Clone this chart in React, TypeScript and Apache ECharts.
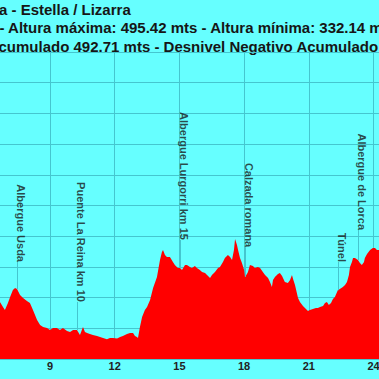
import React, { useEffect, useRef } from "react";
import * as echarts from "echarts";

// Profile: distance (km) and elevation (m)
const kms = [
  6.45, 6.68, 6.82, 6.91, 7.05, 7.15, 7.28, 7.38, 7.47, 7.61, 7.75, 7.93, 8.07, 8.21, 8.4, 8.54, 8.68, 8.86,
  9.0, 9.14, 9.32, 9.46, 9.6, 9.79, 9.93, 10.07, 10.25, 10.39, 10.53, 10.62, 10.72, 10.85, 10.99, 11.18,
  11.32, 11.46, 11.64, 11.78, 11.92, 12.11, 12.25, 12.38, 12.57, 12.71, 12.85, 12.94, 13.03, 13.08, 13.17,
  13.27, 13.4, 13.5, 13.64, 13.78, 13.96, 14.1, 14.19, 14.24, 14.33, 14.42, 14.56, 14.7, 14.79, 14.93,
  15.03, 15.12, 15.26, 15.35, 15.49, 15.58, 15.72, 15.81, 15.95, 16.05, 16.19, 16.28, 16.42, 16.51, 16.65,
  16.79, 16.88, 17.02, 17.11, 17.25, 17.35, 17.44, 17.53, 17.58, 17.67, 17.72, 17.81, 17.9, 18.0, 18.04,
  18.13, 18.18, 18.27, 18.41, 18.5, 18.64, 18.74, 18.87, 18.97, 19.11, 19.2, 19.29, 19.34, 19.43, 19.57,
  19.66, 19.76, 19.89, 20.03, 20.13, 20.22, 20.27, 20.36, 20.5, 20.59, 20.73, 20.87, 20.96, 21.05, 21.19,
  21.33, 21.42, 21.52, 21.66, 21.75, 21.84, 21.93, 22.03, 22.12, 22.21, 22.35, 22.44, 22.58, 22.68, 22.77,
  22.86, 22.91, 23.0, 23.05, 23.14, 23.28, 23.37, 23.46, 23.56, 23.6, 23.7, 23.84, 23.97, 24.07, 24.16,
  24.25, 24.53,
];
const elevations = [
  396.1, 392.8, 384.7, 379.8, 391.2, 401.0, 412.4, 415.6, 414.0, 404.2, 399.4, 394.5, 391.2, 379.8, 363.5,
  355.4, 352.1, 350.5, 347.2, 350.5, 350.5, 347.2, 350.5, 345.6, 344.0, 347.2, 347.2, 339.1, 352.1, 344.0,
  342.3, 340.7, 339.1, 337.5, 335.8, 334.2, 332.1, 334.2, 334.2, 333.4, 335.8, 337.5, 340.7, 342.3, 342.3,
  337.5, 335.8, 334.0, 352.1, 368.4, 379.8, 384.7, 396.1, 415.6, 433.6, 461.2, 474.3, 477.5, 469.4, 466.1,
  466.1, 458.0, 453.1, 448.2, 448.2, 445.0, 453.1, 453.1, 449.8, 448.2, 451.5, 448.2, 445.0, 441.7, 440.1,
  436.8, 431.9, 436.8, 441.7, 448.2, 449.8, 458.0, 464.5, 469.4, 466.1, 461.2, 477.5, 495.4, 485.7, 477.5,
  464.5, 456.4, 445.0, 433.6, 438.4, 441.7, 453.1, 451.5, 448.2, 449.8, 448.2, 441.7, 436.8, 431.9, 425.4,
  417.3, 428.7, 433.6, 438.4, 440.1, 435.2, 425.4, 423.8, 428.7, 436.8, 430.3, 420.5, 399.4, 392.8, 386.3,
  381.4, 378.2, 379.8, 381.4, 383.1, 383.1, 384.7, 386.3, 391.2, 392.8, 387.9, 391.2, 397.7, 401.0, 412.4,
  414.0, 417.3, 420.5, 425.4, 436.8, 449.8, 458.0, 464.5, 464.5, 461.2, 456.4, 453.1, 458.0, 464.5, 471.0,
  477.5, 480.8, 480.8, 477.5, 477.5, 480.8,
];

// Waypoint markers
const markerNames = [
  "Albergue Usda",
  "Puente La Reina km 10",
  "Albergue Lurgorri km 15",
  "Calzada romana",
  "Túnel",
  "Albergue de Lorca",
];
const markerKm = [7.47, 10.25, 15.03, 18.04, 22.35, 23.28];
const markerBase = [414, 347, 448, 434, 412, 461];
const markerTop = [458, 393, 494, 482, 458, 510];

// Axis ticks
const xTicks = { min: 6, max: 27, interval: 3 };
const yTicks = { min: 300, max: 800, interval: 50 };

const titleLines = [
  "a - Estella / Lizarra",
  "- Altura máxima: 495.42 mts - Altura mínima: 332.14 m",
  "cumulado 492.71 mts - Desnivel Negativo Acumulado",
];

const FONT = "'Liberation Sans', Arial, sans-serif";
const GRID_COLOR = "#45c6cf";
// the visible window is a crop of a wider chart
const PAD_L = 100;
const PAD_R = 100;

export default function App() {
  const ref = useRef<HTMLDivElement>(null);

  useEffect(() => {
    if (!ref.current) return;
    document.body.style.margin = "0";
    document.body.style.overflow = "hidden";
    const chart = echarts.init(ref.current, undefined, { renderer: "svg" });
    const profile = kms.map((k, i) => [k, elevations[i]]);
    const titleY = [9, 27.5, 46];
    const titleX = [-1, -0.5, -1.5];

    chart.setOption({
      animation: false,
      backgroundColor: "#66ffff",
      grid: { left: PAD_L - 14.7, right: PAD_R - 59.2, top: 52, bottom: 20, containLabel: false },
      xAxis: {
        type: "value",
        min: xTicks.min,
        max: xTicks.max,
        interval: xTicks.interval,
        axisLine: { show: false },
        axisTick: { show: false },
        axisLabel: {
          margin: 1,
          color: "#222",
          fontSize: 11,
          fontWeight: "bold",
          fontFamily: FONT,
          showMinLabel: false,
          showMaxLabel: false,
        },
        splitLine: { show: true, lineStyle: { color: GRID_COLOR, width: 1 } },
      },
      yAxis: {
        type: "value",
        min: yTicks.min,
        max: yTicks.max,
        interval: yTicks.interval,
        axisLine: { show: false },
        axisTick: { show: false },
        axisLabel: { show: false },
        splitLine: { show: true, lineStyle: { color: GRID_COLOR, width: 1 } },
      },
      series: [
        {
          type: "line",
          data: profile,
          symbol: "none",
          lineStyle: { width: 0 },
          areaStyle: { color: "#ff0000", opacity: 1, origin: "start" },
          silent: true,
          markLine: {
            silent: true,
            symbol: ["none", "none"],
            label: { show: false },
            lineStyle: { color: GRID_COLOR, width: 1, type: "solid" },
            data: markerKm.map((k, i) => [
              { coord: [k, markerBase[i]] },
              { coord: [k, markerTop[i]] },
            ]),
          },
        },
        {
          type: "scatter",
          symbolSize: 0,
          silent: true,
          data: markerKm.map((k, i) => ({ value: [k, markerTop[i]], name: markerNames[i] })),
          label: {
            show: true,
            position: "inside",
            formatter: (p: any) => p.name,
            rotate: -90,
            align: "right",
            verticalAlign: "middle",
            offset: [0, -4],
            color: "#1a1a1a",
            fontSize: 11,
            fontWeight: "bold",
            fontFamily: FONT,
          },
        },
      ],
      graphic: titleLines.map((t, i) => ({
        type: "text",
        x: PAD_L + titleX[i],
        y: titleY[i],
        silent: true,
        style: {
          text: t,
          fill: "#161616",
          font: `bold 15px ${FONT}`,
          textAlign: "left",
          textVerticalAlign: "middle",
        },
      })),
    });

    return () => chart.dispose();
  }, []);

  return (
    <div
      ref={ref}
      style={{ position: "fixed", left: -PAD_L, top: 0, width: 379 + PAD_L + PAD_R, height: 379 }}
    />
  );
}
